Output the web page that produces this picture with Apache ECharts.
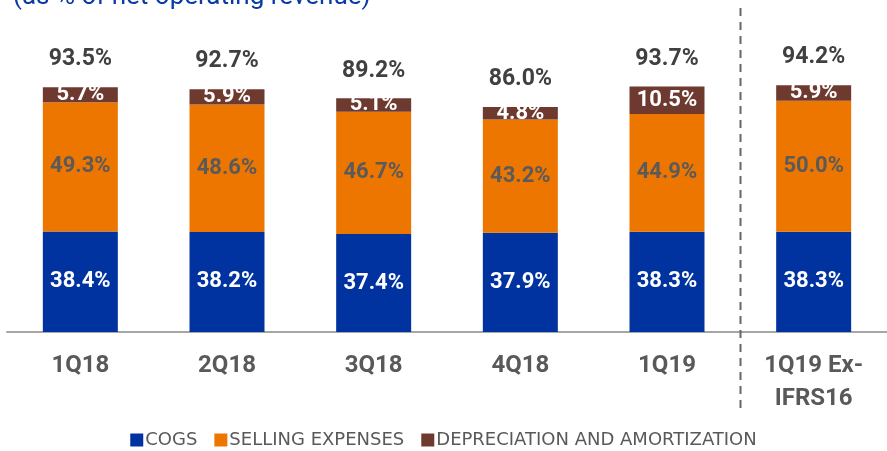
<!DOCTYPE html>
<html>
<head>
<meta charset="utf-8">
<script src="https://cdn.jsdelivr.net/npm/echarts@6/dist/echarts.min.js"></script>
<style>
  html, body { margin: 0; padding: 0; background: #fff; }
  #chart { width: 887px; height: 451px; }
</style>
</head>
<body>
<div id="chart"></div>
<script>
// quarters on the x-axis
var quarters = ["1Q18", "2Q18", "3Q18", "4Q18", "1Q19", "1Q19 Ex-\nIFRS16"];

// % of net operating revenue
var cogs = [38.4, 38.2, 37.4, 37.9, 38.3, 38.3];
var selling = [49.3, 48.6, 46.7, 43.2, 44.9, 50.0];
var deprec = [5.7, 5.9, 5.1, 4.8, 10.5, 5.9];
var totals = [93.5, 92.7, 89.2, 86.0, 93.7, 94.2];

var chart = echarts.init(document.getElementById("chart"), null, { renderer: "canvas" });

var colors = ["#0033a0", "#ed7600", "#6e3a2f"];
var fontFam = "Roboto";
var barW = 75;

function pct(p) {
	return p.value.toFixed(1) + "%";
}

function segLabel(color) {
	return {
		show: true,
		position: "inside",
		formatter: pct,
		color: color,
		fontSize: 22,
		fontWeight: "bold",
		fontFamily: fontFam
	};
}

var option = {
	animation: false,
	color: colors,
	title: {
		text: "(as % of net operating revenue)",
		left: 8,
		top: -21,
		textStyle: {
			color: "#0a3aa8",
			fontSize: 26,
			fontWeight: "normal",
			fontFamily: fontFam
		}
	},
	legend: {
		data: ["COGS", "SELLING EXPENSES", "DEPRECIATION AND AMORTIZATION"],
		bottom: -3,
		left: "center",
		icon: "rect",
		itemWidth: 13,
		itemHeight: 13,
		itemGap: 17,
		textStyle: {
			color: "#595959",
			fontSize: 18,
			fontFamily: "DejaVu Sans",
			padding: [0, 0, 0, -3]
		}
	},
	grid: {
		left: 7,
		width: 884,
		top: 70,
		bottom: 119
	},
	xAxis: {
		type: "category",
		data: quarters,
		axisTick: { show: false },
		axisLine: { lineStyle: { color: "#a6a6a6", width: 2 } },
		axisLabel: {
			color: "#595959",
			fontSize: 24,
			fontWeight: "bold",
			fontFamily: fontFam,
			margin: 17,
			lineHeight: 33
		}
	},
	yAxis: {
		type: "value",
		min: 0,
		max: 100,
		show: false,
		splitLine: { show: false }
	},
	series: [
		{
			name: "COGS",
			type: "bar",
			stack: "cost",
			barWidth: barW,
			barGap: "-100%",
			data: cogs,
			label: segLabel("#fff")
		},
		{
			name: "SELLING EXPENSES",
			type: "bar",
			stack: "cost",
			barWidth: barW,
			barGap: "-100%",
			data: selling,
			label: segLabel("#5a5a5a")
		},
		{
			name: "DEPRECIATION AND AMORTIZATION",
			type: "bar",
			stack: "cost",
			barWidth: barW,
			barGap: "-100%",
			data: deprec,
			label: segLabel("#fff")
		},
		{
			// invisible bar only used for the total labels
			name: "Total",
			type: "bar",
			barWidth: barW,
			barGap: "-100%",
			data: totals,
			silent: true,
			z: 0,
			itemStyle: { color: "transparent" },
			label: {
				show: true,
				position: "top",
				distance: 16,
				formatter: pct,
				color: "#404040",
				fontSize: 23,
				fontWeight: "bold",
				fontFamily: fontFam
			}
		}
	]
};
chart.setOption(option);

// dashed separator between 1Q19 and the ex-IFRS16 column
var xa = chart.convertToPixel({ xAxisIndex: 0 }, quarters[4]);
var xb = chart.convertToPixel({ xAxisIndex: 0 }, quarters[5]);
var sepX = Math.round((xa + xb) / 2) + 0.5;
chart.setOption({
	graphic: [
		{
			type: "line",
			shape: { x1: sepX, y1: 8, x2: sepX, y2: 410 },
			style: { stroke: "#666", lineWidth: 2, lineDash: [8, 6] },
			z: 10
		}
	]
});
</script>
</body>
</html>
